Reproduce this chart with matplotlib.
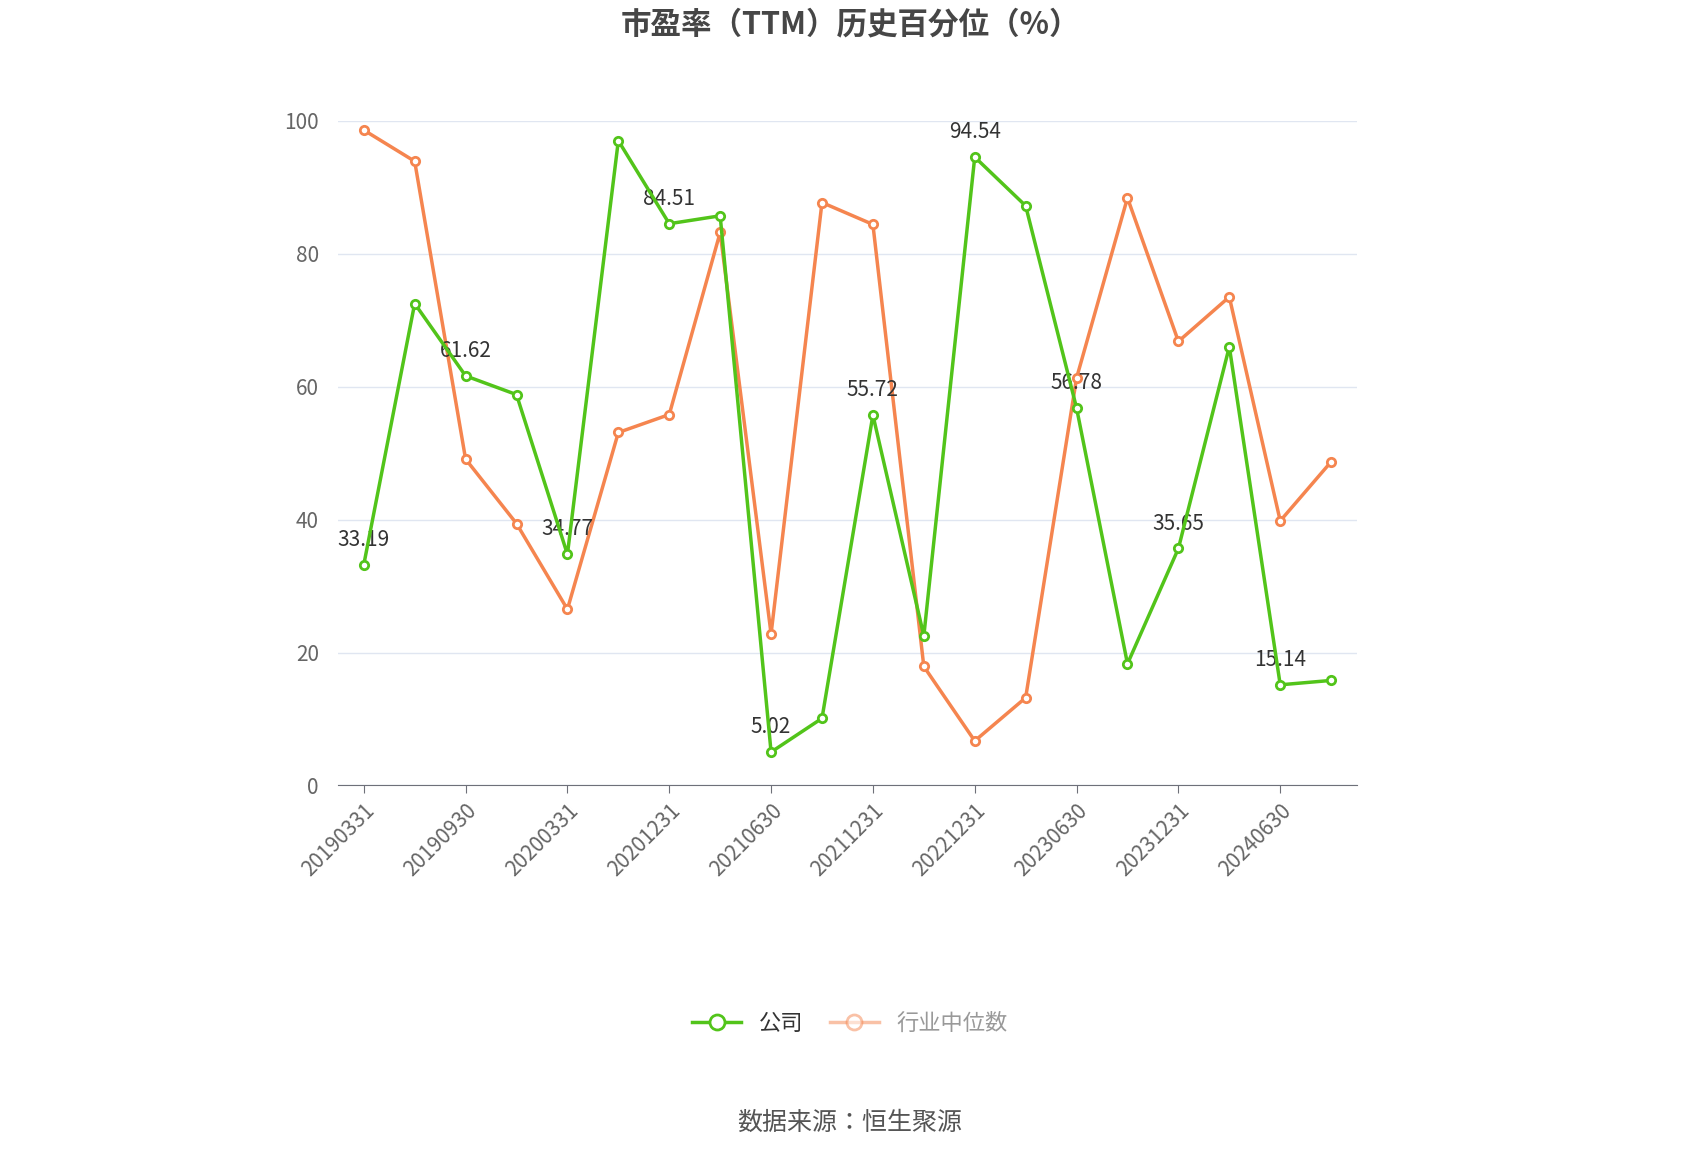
import matplotlib
matplotlib.use("Agg")
import matplotlib.pyplot as plt
from matplotlib import font_manager as fm

cands = ['Noto Sans CJK SC', 'Noto Sans CJK JP', 'Noto Sans CJK TC', 'Noto Sans CJK KR']
avail = {f.name for f in fm.fontManager.ttflist}
chosen = [c for c in cands if c in avail]
if not chosen:
    for f in fm.findSystemFonts():
        if 'CJK' in f or 'Noto' in f and 'CJK' in f:
            fm.fontManager.addfont(f)
    avail = {f.name for f in fm.fontManager.ttflist}
    chosen = [c for c in avail if 'CJK' in c]
plt.rcParams['font.family'] = 'sans-serif'
plt.rcParams['font.sans-serif'] = chosen + ['DejaVu Sans']

company = [33.19, 72.5, 61.62, 58.8, 34.77, 97.0, 84.51, 85.7, 5.02, 10.1, 55.72, 22.5,
           94.54, 87.2, 56.78, 18.3, 35.65, 66.0, 15.14, 15.8]
industry = [98.6, 93.9, 49.1, 39.4, 26.5, 53.1, 55.8, 83.2, 22.8, 87.7, 84.4, 17.9,
            6.7, 13.2, 61.3, 88.4, 66.8, 73.5, 39.8, 48.7]
tick_labels = ["20190331","20190930","20200331","20201231","20210630","20211231",
               "20221231","20230630","20231231","20240630"]

fig = plt.figure(figsize=(17, 11.5), dpi=100)
ax = fig.add_axes([0.199, 0.317, 0.599, 0.578])
x = list(range(len(company)))
green = '#52c41a'; orange = '#f5854f'
ax.plot(x, industry, color=orange, lw=2.5, marker='o', ms=6, mfc='white', mew=2, zorder=3, label='行业中位数')
ax.plot(x, company, color=green, lw=2.5, marker='o', ms=6, mfc='white', mew=2, zorder=4, label='公司')
for i in range(0, len(company), 2):
    ax.annotate(f"{company[i]:.2f}", (i, company[i]), xytext=(0, 10), textcoords='offset points',
                ha='center', va='bottom', fontsize=15, color='#333333')
ax.set_xlim(-0.5, len(company) - 0.5)
ax.set_ylim(0, 100)
ax.set_yticks([0, 20, 40, 60, 80, 100])
ax.set_xticks(list(range(0, len(company), 2)))
ax.set_xticklabels(tick_labels, rotation=45, ha='right', rotation_mode='anchor', fontsize=15, color='#666666')
ax.tick_params(axis='y', length=0, labelsize=15, labelcolor='#666666', pad=14)
ax.tick_params(axis='x', length=6, color='#6e7079', pad=4)
ax.grid(axis='y', color='#e0e6f1', lw=1)
ax.set_axisbelow(True)
for s in ['top', 'right', 'left']:
    ax.spines[s].set_visible(False)
ax.spines['bottom'].set_color('#6e7079')

fig.text(0.5, 0.979, "市盈率（TTM）历史百分位（%）", ha='center', va='center', fontsize=22,
         fontweight='bold', color='#464646')
h, l = ax.get_legend_handles_labels()
leg = fig.legend(h[::-1], l[::-1], loc='center', bbox_to_anchor=(0.5, 0.11), ncol=2, frameon=False,
                 fontsize=16, handlelength=2.2, markerscale=1.8, columnspacing=1.2)
for t in leg.get_texts():
    t.set_color('#333333')
leg.get_texts()[1].set_color('#999999')
leg.legend_handles[1].set_alpha(0.5)
fig.text(0.5, 0.024, "数据来源：恒生聚源", ha='center', va='center', fontsize=18, color='#555555')
fig.savefig("out.png", dpi=100)
